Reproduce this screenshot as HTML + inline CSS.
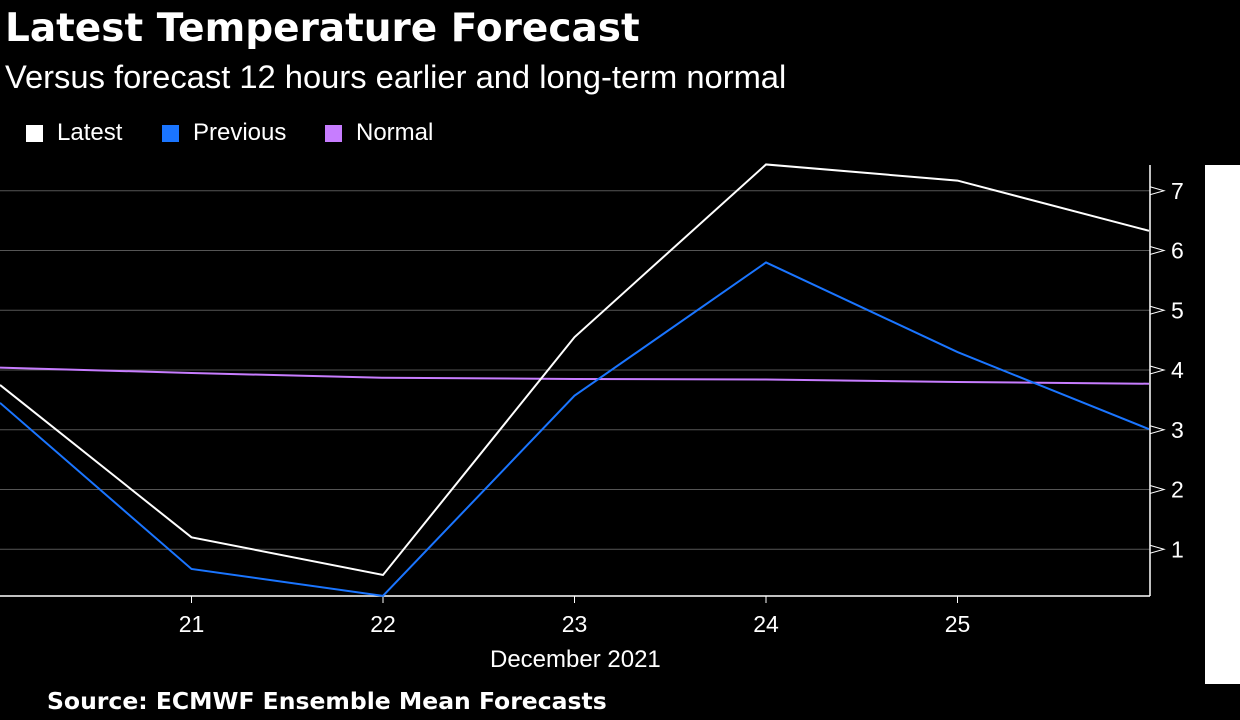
<!DOCTYPE html>
<html><head><meta charset="utf-8"><style>
body{margin:0;background:#000;width:1240px;height:720px;overflow:hidden;font-family:"Liberation Sans",sans-serif;color:#fff;position:relative}
.t{position:absolute;white-space:nowrap}
.sw{display:inline-block;width:17px;height:17px;vertical-align:-2px;margin-right:14px}
</style></head><body>
<div class="t" style="left:5px;top:6px;font-size:39px;font-weight:bold;font-family:'DejaVu Sans',sans-serif">Latest Temperature Forecast</div>
<div class="t" style="left:5px;top:58px;font-size:32.7px">Versus forecast 12 hours earlier and long-term normal</div>
<div class="t" style="left:26px;top:119px;font-size:24px"><span class="sw" style="background:#fff"></span>Latest</div>
<div class="t" style="left:162px;top:119px;font-size:24px"><span class="sw" style="background:#1a75ff"></span>Previous</div>
<div class="t" style="left:325px;top:119px;font-size:24px"><span class="sw" style="background:#c77dff"></span>Normal</div>
<div style="position:absolute;left:1205px;top:165px;width:35px;height:519px;background:#fff"></div>
<svg id="chart" width="1240" height="720" style="position:absolute;left:0;top:0"></svg>
<div class="t" style="left:490px;top:646px;font-size:24px">December 2021</div>
<div class="t" style="left:47px;top:687px;font-size:23.5px;font-weight:bold;font-family:'DejaVu Sans',sans-serif">Source: ECMWF Ensemble Mean Forecasts</div>
<script>
const days=[20,21,22,23,24,25,26];
const latest=[3.75,1.2,0.57,4.55,7.44,7.17,6.33];
const previous=[3.45,0.67,0.22,3.57,5.8,4.3,3.01];
const normal=[4.04,3.95,3.87,3.85,3.84,3.8,3.77];
const yTicks=[1,2,3,4,5,6,7];
const xTicks=[21,22,23,24,25];
const NS='http://www.w3.org/2000/svg';
const svg=document.getElementById('chart');
const x=d=>(d-20)*191.5;
const y=v=>609-v*59.75;
function mk(t,a){const e=document.createElementNS(NS,t);for(const k in a)e.setAttribute(k,a[k]);svg.appendChild(e);return e;}
yTicks.forEach(v=>{
  let g=mk('line',{x1:0,x2:1150,y1:y(v),y2:y(v),stroke:'#555','stroke-width':1});
  
  
  let p=mk('polygon',{points:`1150,${y(v)-4} 1164,${y(v)} 1150,${y(v)+4}`,fill:'none',stroke:'#fff','stroke-width':1});
  
  
  let t=mk('text',{x:1171,y:y(v)+8,fill:'#fff','font-size':23,'font-family':'Liberation Sans, sans-serif'});
  t.textContent=v;
  
  
});
let ax=mk('line',{x1:1150,x2:1150,y1:165,y2:596,stroke:'#fff','stroke-width':1.5});


let bx=mk('line',{x1:0,x2:1150,y1:596,y2:596,stroke:'#fff','stroke-width':1.5});


xTicks.forEach(d=>{
  let tk=mk('line',{x1:x(d),x2:x(d),y1:596,y2:603,stroke:'#fff','stroke-width':1});
  
  
  let t=mk('text',{x:x(d),y:632,fill:'#fff','font-size':23,'text-anchor':'middle','font-family':'Liberation Sans, sans-serif'});
  t.textContent=d;
  
  
});
[[normal,'#c77dff','normal-line'],[previous,'#1a75ff','previous-line'],[latest,'#ffffff','latest-line']].forEach(([s,c,n])=>{
  let l=mk('polyline',{points:s.map((v,i)=>x(days[i])+','+y(v)).join(' '),fill:'none',stroke:c,'stroke-width':2});
  
  
});
</script>
</body></html>
